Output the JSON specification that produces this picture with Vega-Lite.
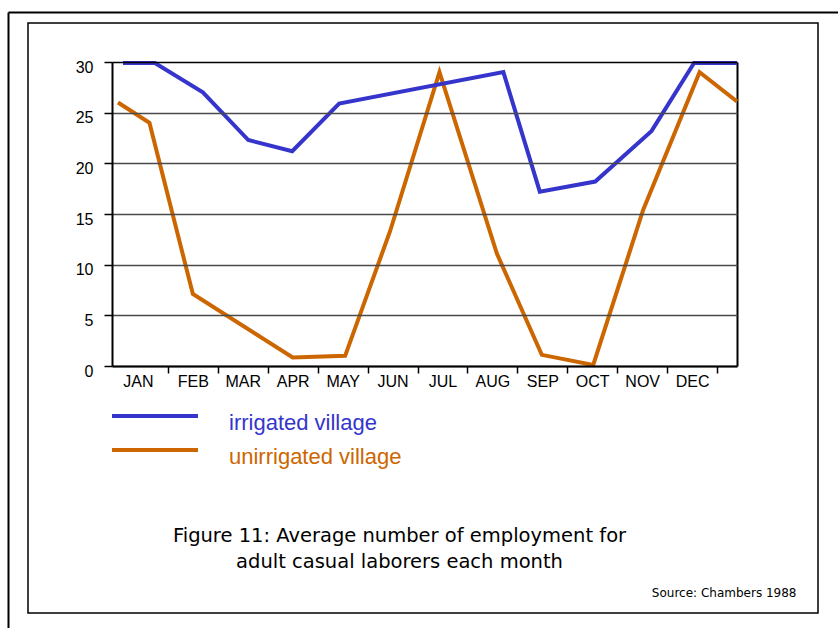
{
  "$schema": "https://vega.github.io/schema/vega-lite/v6.json",
  "width": 790,
  "height": 590,
  "autosize": {"type": "none"},
  "padding": {"left": 28, "top": 23, "right": 20, "bottom": 15},
  "background": "white",
  "data": {
    "values": [
      {"s": "unirrigated village", "m": 0.0, "v": 26.0},
      {"s": "unirrigated village", "m": 0.63, "v": 24.0},
      {"s": "unirrigated village", "m": 1.5, "v": 7.1},
      {"s": "unirrigated village", "m": 3.5, "v": 0.85},
      {"s": "unirrigated village", "m": 4.55, "v": 1.0},
      {"s": "unirrigated village", "m": 5.45, "v": 13.3},
      {"s": "unirrigated village", "m": 6.44, "v": 29.0},
      {"s": "unirrigated village", "m": 7.59, "v": 11.1},
      {"s": "unirrigated village", "m": 8.49, "v": 1.1},
      {"s": "unirrigated village", "m": 9.52, "v": 0.1},
      {"s": "unirrigated village", "m": 10.52, "v": 15.4},
      {"s": "unirrigated village", "m": 11.65, "v": 29.0},
      {"s": "unirrigated village", "m": 12.4, "v": 26.1},
      {"s": "irrigated village", "m": 0.1, "v": 29.9},
      {"s": "irrigated village", "m": 0.74, "v": 29.9},
      {"s": "irrigated village", "m": 1.7, "v": 27.0},
      {"s": "irrigated village", "m": 2.61, "v": 22.3},
      {"s": "irrigated village", "m": 3.49, "v": 21.2},
      {"s": "irrigated village", "m": 4.43, "v": 25.9},
      {"s": "irrigated village", "m": 7.72, "v": 29.0},
      {"s": "irrigated village", "m": 8.45, "v": 17.2},
      {"s": "irrigated village", "m": 9.56, "v": 18.2},
      {"s": "irrigated village", "m": 10.69, "v": 23.2},
      {"s": "irrigated village", "m": 11.54, "v": 29.9},
      {"s": "irrigated village", "m": 12.4, "v": 29.9}
    ]
  },
  "resolve": {
    "scale": {"x": "independent", "y": "independent"},
    "axis": {"x": "independent", "y": "independent"}
  },
  "layer": [
    {
      "mark": {"type": "point", "opacity": 0},
      "encoding": {
        "x": {
          "field": "m", "type": "quantitative",
          "scale": {"domain": [0, 1], "range": [-20, 810], "nice": false, "zero": false},
          "axis": {"orient": "top", "offset": 11, "domain": true, "domainColor": "black", "domainWidth": 2, "ticks": false, "labels": false, "grid": false, "title": null}
        },
        "y": {
          "field": "v", "type": "quantitative",
          "scale": {"domain": [0, 1], "range": [605, -11], "nice": false, "zero": false},
          "axis": {"orient": "left", "offset": 20, "domain": true, "domainColor": "black", "domainWidth": 2, "ticks": false, "labels": false, "grid": false, "title": null}
        }
      }
    },
    {
      "mark": {"type": "line", "strokeWidth": 4, "strokeJoin": "miter", "strokeCap": "butt"},
      "encoding": {
        "x": {
          "field": "m", "type": "quantitative",
          "scale": {"domain": [-0.12, 12.4], "range": [84, 709], "nice": false, "zero": false},
          "axis": {
            "orient": "bottom", "offset": -247, "zindex": 1,
            "values": [0.4, 1, 1.5, 2, 2.5, 3, 3.5, 4, 4.5, 5, 5.5, 6, 6.5, 7, 7.5, 8, 8.5, 9, 9.5, 10, 10.5, 11, 11.5, 12],
            "labelExpr": "datum.value % 1 == 0 ? '' : ['JAN','FEB','MAR','APR','MAY','JUN','JUL','AUG','SEP','OCT','NOV','DEC'][floor(datum.value)]",
            "tickOpacity": {"condition": {"test": "datum.value % 1 != 0", "value": 0}, "value": 1},
            "tickSize": 7, "tickColor": "black", "tickWidth": 1.5,
            "domainColor": "black", "domainWidth": 2,
            "labelFont": "Liberation Sans", "labelFontSize": 16, "labelColor": "black",
            "labelPadding": 0, "labelFlush": false, "labelOverlap": false, "labelBound": false,
            "grid": false, "title": null
          }
        },
        "y": {
          "field": "v", "type": "quantitative",
          "scale": {"domain": [0, 30], "range": [343, 39], "nice": false, "zero": false},
          "axis": {
            "orient": "left", "offset": -84, "zindex": 1,
            "values": [0, 5, 10, 15, 20, 25, 30],
            "grid": true,
            "gridColor": {"condition": {"test": "datum.value == 30", "value": "black"}, "value": "#4a4a4a"},
            "gridWidth": 1.3,
            "tickSize": 8, "tickColor": "black", "tickWidth": 1.5,
            "domainColor": "black", "domainWidth": 2,
            "labelFont": "Liberation Sans", "labelFontSize": 16, "labelColor": "black",
            "labelPadding": 11, "labelOffset": 5, "labelFlush": false, "labelBound": false,
            "title": ["Figure 11: Average number of employment for", "adult casual laborers each month"],
            "titleAngle": 0, "titleX": 287, "titleY": 518,
            "titleAlign": "center", "titleBaseline": "alphabetic",
            "titleFont": "DejaVu Sans", "titleFontSize": 19.5, "titleFontWeight": "normal",
            "titleColor": "black", "titleLineHeight": 26
          }
        },
        "color": {
          "field": "s", "type": "nominal",
          "scale": {"domain": ["irrigated village", "unirrigated village"], "range": ["#3535cc", "#cc6600"]},
          "legend": {
            "orient": "none", "legendX": 114, "legendY": 380,
            "title": null, "padding": 0,
            "symbolType": "M-4,0H4", "symbolSize": 462, "symbolStrokeWidth": 4,
            "labelFont": "Liberation Sans", "labelFontSize": 22, "labelOffset": 61, "labelLimit": 400,
            "rowPadding": 3,
            "encode": {"labels": {"update": {"fill": {"signal": "scale('color', datum.value)"}, "dy": {"value": 7}}}}
          }
        }
      }
    },
    {
      "mark": {"type": "point", "opacity": 0},
      "encoding": {
        "y": {
          "field": "v", "type": "quantitative",
          "scale": {"domain": [0, 30], "range": [343, 39], "nice": false, "zero": false},
          "axis": {
            "orient": "right", "offset": -81,
            "domain": true, "domainColor": "black", "domainWidth": 2,
            "ticks": false, "labels": false, "grid": false,
            "title": "Source: Chambers 1988",
            "titleAngle": 0, "titleX": 59, "titleY": 573,
            "titleAlign": "right", "titleBaseline": "alphabetic",
            "titleFont": "DejaVu Sans", "titleFontSize": 12, "titleFontWeight": "normal",
            "titleColor": "black"
          }
        }
      }
    }
  ],
  "config": {
    "view": {"stroke": "black", "strokeWidth": 1.5}
  }
}
